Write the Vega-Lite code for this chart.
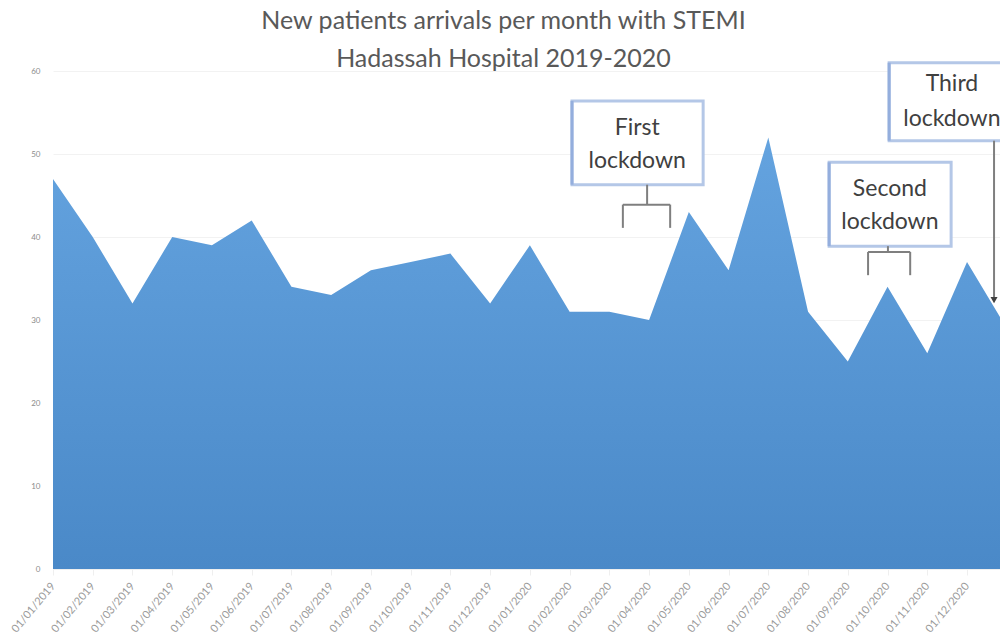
{
  "$schema": "https://vega.github.io/schema/vega-lite/v6.json",
  "width": 947,
  "height": 498,
  "autosize": {"type": "none"},
  "padding": {"left": 53, "top": 71, "right": 0, "bottom": 68},
  "background": "white",
  "config": {"view": {"stroke": null}, "font": "Lato"},
  "title": {
    "text": ["New patients arrivals per month with STEMI", "Hadassah Hospital 2019-2020"],
    "fontSize": 25,
    "fontWeight": "normal",
    "color": "#595959",
    "lineHeight": 38,
    "anchor": "middle",
    "dx": -23,
    "offset": -11
  },
  "datasets": {
    "monthly": [
      {"month": "2019-01", "idx": 0, "patients": 47},
      {"month": "2019-02", "idx": 1, "patients": 40},
      {"month": "2019-03", "idx": 2, "patients": 32},
      {"month": "2019-04", "idx": 3, "patients": 40},
      {"month": "2019-05", "idx": 4, "patients": 39},
      {"month": "2019-06", "idx": 5, "patients": 42},
      {"month": "2019-07", "idx": 6, "patients": 34},
      {"month": "2019-08", "idx": 7, "patients": 33},
      {"month": "2019-09", "idx": 8, "patients": 36},
      {"month": "2019-10", "idx": 9, "patients": 37},
      {"month": "2019-11", "idx": 10, "patients": 38},
      {"month": "2019-12", "idx": 11, "patients": 32},
      {"month": "2020-01", "idx": 12, "patients": 39},
      {"month": "2020-02", "idx": 13, "patients": 31},
      {"month": "2020-03", "idx": 14, "patients": 31},
      {"month": "2020-04", "idx": 15, "patients": 30},
      {"month": "2020-05", "idx": 16, "patients": 43},
      {"month": "2020-06", "idx": 17, "patients": 36},
      {"month": "2020-07", "idx": 18, "patients": 52},
      {"month": "2020-08", "idx": 19, "patients": 31},
      {"month": "2020-09", "idx": 20, "patients": 25},
      {"month": "2020-10", "idx": 21, "patients": 34},
      {"month": "2020-11", "idx": 22, "patients": 26},
      {"month": "2020-12", "idx": 23, "patients": 37},
      {"month": "2021-01", "idx": 24, "patients": 29}
    ],
    "boxes": [
      {"label": "First lockdown", "x1": 13.06, "x2": 16.36, "y1": 56.4, "y2": 46.3},
      {"label": "Second lockdown", "x1": 19.53, "x2": 22.6, "y1": 49.0, "y2": 38.9},
      {"label": "Third lockdown", "x1": 21.04, "x2": 24.23, "y1": 61.0, "y2": 51.6}
    ],
    "texts": [
      {"text": "First", "x": 14.7, "y": 53.1},
      {"text": "lockdown", "x": 14.7, "y": 49.2},
      {"text": "Second", "x": 21.06, "y": 45.8},
      {"text": "lockdown", "x": 21.06, "y": 41.8},
      {"text": "Third", "x": 22.62, "y": 58.4},
      {"text": "lockdown", "x": 22.62, "y": 54.2}
    ],
    "segments": [
      {"x1": 14.95, "y1": 46.3, "x2": 14.95, "y2": 43.9},
      {"x1": 14.34, "y1": 43.9, "x2": 15.53, "y2": 43.9},
      {"x1": 14.34, "y1": 43.9, "x2": 14.34, "y2": 41.1},
      {"x1": 15.53, "y1": 43.9, "x2": 15.53, "y2": 41.1},
      {"x1": 21.01, "y1": 38.9, "x2": 21.01, "y2": 38.2},
      {"x1": 20.51, "y1": 38.2, "x2": 21.57, "y2": 38.2},
      {"x1": 20.51, "y1": 38.2, "x2": 20.51, "y2": 35.4},
      {"x1": 21.57, "y1": 38.2, "x2": 21.57, "y2": 35.4},
      {"x1": 23.68, "y1": 51.6, "x2": 23.68, "y2": 32.6}
    ],
    "boxLeftEdges": [
      {"x": 13.06, "y1": 56.4, "y2": 46.3},
      {"x": 19.53, "y1": 49.0, "y2": 38.9},
      {"x": 21.04, "y1": 61.0, "y2": 51.6}
    ],
    "arrowheads": [
      {"x": 23.68, "y": 32.4}
    ]
  },
  "layer": [
    {
      "data": {"name": "monthly"},
      "mark": {
        "type": "area",
        "opacity": 1,
        "fill": {
          "gradient": "linear", "x1": 0, "y1": 0, "x2": 0, "y2": 1,
          "stops": [{"offset": 0, "color": "#64a3df"}, {"offset": 1, "color": "#4a89c8"}]
        }
      },
      "encoding": {
        "x": {
          "field": "idx", "type": "quantitative",
          "scale": {"domain": [0, 23.83], "nice": false, "zero": false},
          "axis": {
            "title": null,
            "values": [0,1,2,3,4,5,6,7,8,9,10,11,12,13,14,15,16,17,18,19,20,21,22,23,24],
            "labelExpr": "timeFormat(datetime(2019, datum.value, 1), '%d/%m/%Y')",
            "labelAngle": -50,
            "labelFontSize": 11,
            "labelColor": "#9a9a9a",
            "labelOverlap": false,
            "labelBound": false,
            "labelFlush": false,
            "labelPadding": 9,
            "grid": false,
            "domainColor": "#efefef",
            "tickColor": "#efefef",
            "tickSize": 6
          }
        },
        "y": {
          "field": "patients", "type": "quantitative",
          "scale": {"domain": [0, 60], "nice": false},
          "axis": {
            "title": null,
            "values": [0, 10, 20, 30, 40, 50, 60],
            "labelFontSize": 8,
            "labelColor": "#8c8c8c",
            "labelPadding": 13,
            "ticks": false,
            "domain": false,
            "gridColor": "#f2f2f2",
            "gridWidth": 1
          }
        }
      }
    },
    {
      "data": {"name": "boxes"},
      "mark": {"type": "rect", "fill": "white", "stroke": "#b4c7e7", "strokeWidth": 3},
      "encoding": {
        "x": {"field": "x1", "type": "quantitative", "scale": {"domain": [0, 23.83], "nice": false, "zero": false}},
        "x2": {"field": "x2"},
        "y": {"field": "y1", "type": "quantitative", "scale": {"domain": [0, 60], "nice": false}},
        "y2": {"field": "y2"}
      }
    },
    {
      "data": {"name": "boxLeftEdges"},
      "mark": {"type": "rule", "color": "#94aedd", "strokeWidth": 3},
      "encoding": {
        "x": {"field": "x", "type": "quantitative", "scale": {"domain": [0, 23.83], "nice": false, "zero": false}},
        "y": {"field": "y1", "type": "quantitative", "scale": {"domain": [0, 60], "nice": false}},
        "y2": {"field": "y2"}
      }
    },
    {
      "data": {"name": "segments"},
      "mark": {"type": "rule", "color": "#7f7f7f", "strokeWidth": 2},
      "encoding": {
        "x": {"field": "x1", "type": "quantitative", "scale": {"domain": [0, 23.83], "nice": false, "zero": false}},
        "x2": {"field": "x2"},
        "y": {"field": "y1", "type": "quantitative", "scale": {"domain": [0, 60], "nice": false}},
        "y2": {"field": "y2"}
      }
    },
    {
      "data": {"name": "arrowheads"},
      "mark": {"type": "point", "shape": "triangle-down", "filled": true, "color": "#404040", "size": 50, "opacity": 1},
      "encoding": {
        "x": {"field": "x", "type": "quantitative", "scale": {"domain": [0, 23.83], "nice": false, "zero": false}},
        "y": {"field": "y", "type": "quantitative", "scale": {"domain": [0, 60], "nice": false}}
      }
    },
    {
      "data": {"name": "texts"},
      "mark": {"type": "text", "fontSize": 23, "color": "#404040", "align": "center", "baseline": "middle", "font": "Lato"},
      "encoding": {
        "x": {"field": "x", "type": "quantitative", "scale": {"domain": [0, 23.83], "nice": false, "zero": false}},
        "y": {"field": "y", "type": "quantitative", "scale": {"domain": [0, 60], "nice": false}},
        "text": {"field": "text"}
      }
    }
  ]
}
